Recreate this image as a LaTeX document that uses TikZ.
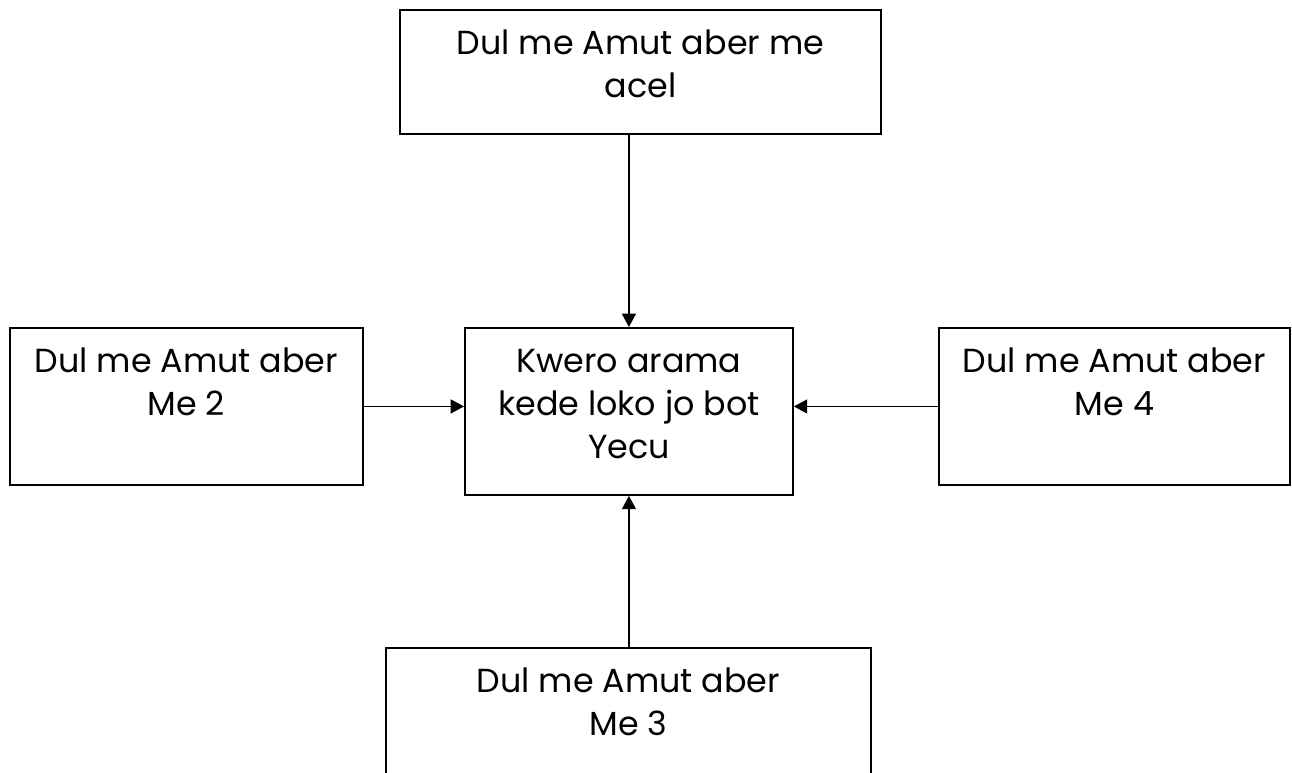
\documentclass[tikz,border=0pt]{standalone}
\usepackage{fontspec}
\setmainfont{Poppins}
\usetikzlibrary{arrows.meta}

\newcommand{\boxtext}[3]{\parbox[c][#2][t]{#1}{\centering\rule{0pt}{33.75pt}#3}}

\begin{document}
\begin{tikzpicture}[x=0.75pt, y=-0.75pt, group/.style={draw, line width=1.4pt, inner sep=0pt, anchor=north west, font=\fontsize{25}{32.25}\selectfont}, flow/.style={line width=1.1pt, -{Triangle[length=10pt, width=10.5pt]}}]
    \useasboundingbox (0,0) rectangle (1292,772);
    \node[group] (acel)  at (399,9)   {\boxtext{360.75pt}{93pt}{Dul me Amut aber me\\acel}};
    \node[group] (kwero) at (464,327) {\boxtext{246pt}{125.25pt}{Kwero arama\\kede loko jo bot\\Yecu}};
    \node[group] (me2)   at (9,327)   {\boxtext{264.75pt}{117.75pt}{Dul me Amut aber\\Me 2}};
    \node[group] (me4)   at (938,327) {\boxtext{263.25pt}{117.75pt}{Dul me Amut aber\\Me 4}};
    \node[group] (me3)   at (385,647) {\boxtext{363.75pt}{114.75pt}{Dul me Amut aber\\Me 3}};

    \draw[flow] (acel.south -| kwero.north) -- (kwero.north);
    \draw[flow] (me2.east) -- (me2.east -| kwero.west);
    \draw[flow] (me4.west) -- (me4.west -| kwero.east);
    \draw[flow] (me3.north -| kwero.south) -- (kwero.south);
  \end{tikzpicture}
\end{document}
